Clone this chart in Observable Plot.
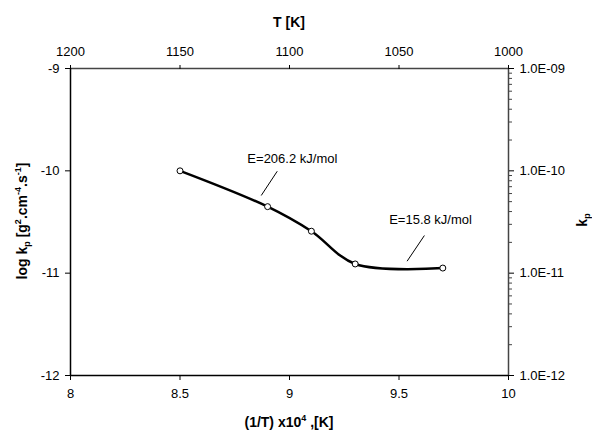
<!DOCTYPE html>
<html><head><meta charset="utf-8">
<script src="https://cdn.jsdelivr.net/npm/d3@7"></script>
<script src="https://cdn.jsdelivr.net/npm/@observablehq/plot@0.6"></script>
<style>body{margin:0;background:#fff;} svg{display:block;}</style>
</head><body><div id="chart"></div>
<script>
// data
const invT = [8.5, 8.9, 9.1, 9.3, 9.7];
const logKp = [-10.0, -10.35, -10.59, -10.91, -10.95];
// ticks
const xTicks = [8, 8.5, 9, 9.5, 10];
const yTicks = [-12, -11, -10, -9];
const tempTicks = [1200, 1150, 1100, 1050, 1000];
const tempDomain = [1200, 1000];
const kpTickLabels = ["1.0E-12", "1.0E-11", "1.0E-10", "1.0E-09"];
const minorMult = [2, 3, 4, 5, 6, 7, 8, 9];
// annotations
const annoText = ["E=206.2 kJ/mol", "E=15.8 kJ/mol"];
const annoX = [9.013, 9.644];
const annoY = [-9.88, -10.476];
const leadX1 = [8.944, 9.616];
const leadY1 = [-10.004, -10.632];
const leadX2 = [8.871, 9.537];
const leadY2 = [-10.241, -10.883];

const data = invT.map((x, i) => ({x, y: logKp[i]}));
const annos = annoText.map((t, i) => ({t, x: annoX[i], y: annoY[i], x1: leadX1[i], y1: leadY1[i], x2: leadX2[i], y2: leadY2[i]}));
const minors = [];
for (const d of [-12, -11, -10]) for (const m of minorMult) minors.push(d + Math.log10(m));

// secondary (top) axis: linear in T, spanning the same frame as x domain [8, 10]
const xDomain = [8, 10];
const tToX = t => xDomain[0] + (t - tempDomain[0]) / (tempDomain[1] - tempDomain[0]) * (xDomain[1] - xDomain[0]);

const W = 592, H = 430;
const svg = Plot.plot({
  width: W, height: H,
  marginLeft: 70, marginRight: 84, marginTop: 68, marginBottom: 55,
  style: {fontFamily: "'Liberation Sans', Arial, sans-serif", fontSize: "13px", background: "#fff", color: "#000"},
  x: {domain: xDomain},
  y: {domain: [-12, -9]},
  marks: [
    Plot.ruleY([-9], {stroke: "#444", strokeWidth: 1.5}),
    Plot.ruleX([10], {stroke: "#444", strokeWidth: 1.5}),
    Plot.ruleY([-12], {stroke: "#000", strokeWidth: 1.5}),
    Plot.ruleX([8], {stroke: "#000", strokeWidth: 1.5}),
    Plot.axisX({anchor: "bottom", ticks: xTicks, tickSize: 5, tickPadding: 8, label: null, tickFormat: d => String(d), color: "#000"}),
    Plot.axisX({anchor: "top", ticks: tempTicks.map(tToX), tickSize: 4, tickPadding: 9, label: null,
      tickFormat: d => String(tempTicks.find(t => Math.abs(tToX(t) - d) < 1e-6)), color: "#000"}),
    Plot.axisY({anchor: "left", ticks: yTicks, tickSize: 5, tickPadding: 6, label: null, tickFormat: d => String(d), color: "#000"}),
    Plot.axisY({anchor: "right", ticks: yTicks, tickSize: 5, tickPadding: 6, label: null,
      tickFormat: d => kpTickLabels[yTicks.indexOf(d)], color: "#000"}),
    Plot.axisY({anchor: "right", ticks: minors, tickSize: 3, label: null, tickFormat: () => "", color: "#444"}),
    Plot.line(data, {x: "x", y: "y", curve: "catmull-rom", stroke: "#000", strokeWidth: 2.5}),
    Plot.dot(data, {x: "x", y: "y", r: 3, fill: "#fff", stroke: "#000", strokeWidth: 1}),
    Plot.link(annos, {x1: "x1", y1: "y1", x2: "x2", y2: "y2", stroke: "#000", strokeWidth: 1}),
    Plot.text(annos, {x: "x", y: "y", text: "t", fontSize: 13, fill: "#000"})
  ]
});

const s = d3.select(svg);
const bold = {"font-weight": "bold", "font-size": "14px", "fill": "#000"};
function title(x, y, rot) {
  const t = s.append("text").attr("text-anchor", "middle")
    .attr("transform", `translate(${x},${y})` + (rot ? ` rotate(${rot})` : ""));
  for (const [k, v] of Object.entries(bold)) t.attr(k, v);
  return t;
}
title(289, 27).text("T [K]");
{
  const t = title(289, 427);
  t.append("tspan").text("(1/T) x10");
  t.append("tspan").attr("font-size", "9px").attr("dy", "-6").text("4");
  t.append("tspan").attr("dy", "6").text(" ,[K]");
}
{
  const t = title(27, 221, -90);
  t.append("tspan").text("log k");
  t.append("tspan").attr("font-size", "9px").attr("dy", "3").text("p");
  t.append("tspan").attr("dy", "-3").text(" [g");
  t.append("tspan").attr("font-size", "9px").attr("dy", "-6").text("2");
  t.append("tspan").attr("dy", "6").text(".cm");
  t.append("tspan").attr("font-size", "9px").attr("dy", "-6").text("-4");
  t.append("tspan").attr("dy", "6").text(".s");
  t.append("tspan").attr("font-size", "9px").attr("dy", "-6").text("-1");
  t.append("tspan").attr("dy", "6").text("]");
}
{
  const t = title(587, 220, -90);
  t.append("tspan").text("k");
  t.append("tspan").attr("font-size", "9px").attr("dy", "3").text("p");
}
document.getElementById("chart").appendChild(svg);
</script>
</body></html>
